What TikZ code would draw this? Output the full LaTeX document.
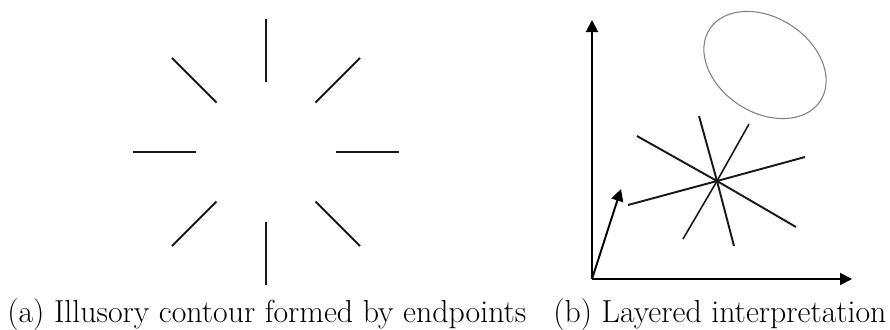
\documentclass[tikz,border=0pt]{standalone}
\usepackage{tikz}
\usetikzlibrary{arrows.meta, positioning, shapes.geometric, calc}

\begin{document}
\begin{tikzpicture}[
    x=0.02cm, y=-0.02cm,
    stroke/.style={line width=1.1pt, color=black!90},
    axis/.style={line width=1.1pt, -{Triangle[length=0.24cm, width=0.24cm]}},
    caption/.style={anchor=base west, inner sep=0pt, font=\fontsize{18.1}{22}\selectfont}
]
    \useasboundingbox (0,0) rectangle (890,329);

    % (a) endpoints around an empty disc
    \coordinate (ctr) at (266,152);
    \foreach \ang in {0,45,...,315}
        \draw[stroke] ($(ctr)+(\ang:70)$) -- ($(ctr)+(\ang:133)$);

    % (b) axes
    \coordinate (orig) at (592,279);
    \coordinate (ytip) at (592,20);
    \coordinate (xtip) at (852,279);
    \coordinate (ztip) at (621,189);
    \draw[axis] (orig) -- (ytip);
    \draw[axis] (orig) -- (xtip);
    \draw[axis] (orig) -- (ztip);

    % (b) star of lines through one point
    \coordinate (hub) at (717,181);
    \coordinate (s1a) at (637,136);  \coordinate (s1b) at (796,227);
    \coordinate (s2a) at (628,205);  \coordinate (s2b) at (805,157);
    \coordinate (s3a) at (699,116);  \coordinate (s3b) at (734,246);
    \coordinate (s4a) at (749,124);  \coordinate (s4b) at (683,239);
    \draw[stroke] (s1a) -- (hub) -- (s1b);
    \draw[stroke] (s2a) -- (hub) -- (s2b);
    \draw[stroke] (s3a) -- (hub) -- (s3b);
    \draw[stroke, line width=0.9pt] (s4a) -- (hub) -- (s4b);

    % (b) occluding disc
    \node[ellipse, draw=black!50, line width=0.6pt, inner sep=0pt,
          minimum width=2.64cm, minimum height=1.9cm, rotate=-32.8] (disc) at (765,65) {};

    % captions
    \node[caption] (capa) at (7,322) {(a) Illusory contour formed by endpoints};
    \node[caption] (capb) at (553,322) {(b) Layered interpretation};
\end{tikzpicture}
\end{document}
